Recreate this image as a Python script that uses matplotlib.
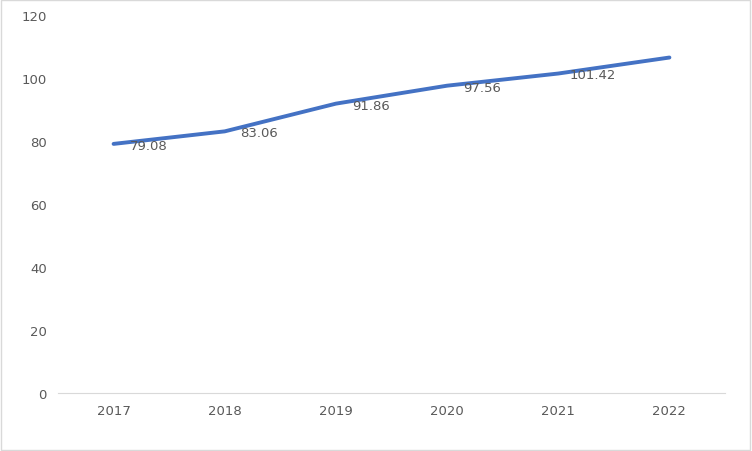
import matplotlib
matplotlib.use("Agg")
import matplotlib.pyplot as plt
from matplotlib.patches import Rectangle

years = ["2017", "2018", "2019", "2020", "2021", "2022"]
values = [79.08, 83.06, 91.86, 97.56, 101.42, 106.5]
labels = ["79.08", "83.06", "91.86", "97.56", "101.42", ""]
yticks = [0, 20, 40, 60, 80, 100, 120]

fig = plt.figure(figsize=(7.52, 4.52), dpi=100)
ax = fig.add_axes([58/752, 58/452, 667/752, 378/452])
x = list(range(len(years)))
ax.plot(x, values, color="#4472C4", lw=2.8, solid_capstyle="round")
for xi, v, t in zip(x, values, labels):
    if t:
        ax.annotate(t, (xi, v), xytext=(25, -1), textcoords="offset points",
                    ha="center", va="center", fontsize=9.5, color="#595959")
ax.set_xlim(-0.5, len(years) - 0.5)
ax.set_ylim(0, 120)
ax.set_xticks(x)
ax.set_xticklabels(years)
ax.set_yticks(yticks)
ax.tick_params(length=0, labelsize=9.5, colors="#595959", pad=8)
for s in ["top", "right", "left"]:
    ax.spines[s].set_visible(False)
ax.spines["bottom"].set_color("#D9D9D9")
fig.patches.append(Rectangle((0.001, 0.002), 0.997, 0.995, transform=fig.transFigure,
                             fill=False, edgecolor="#D9D9D9", lw=1))
fig.savefig("out.png", dpi=100)
